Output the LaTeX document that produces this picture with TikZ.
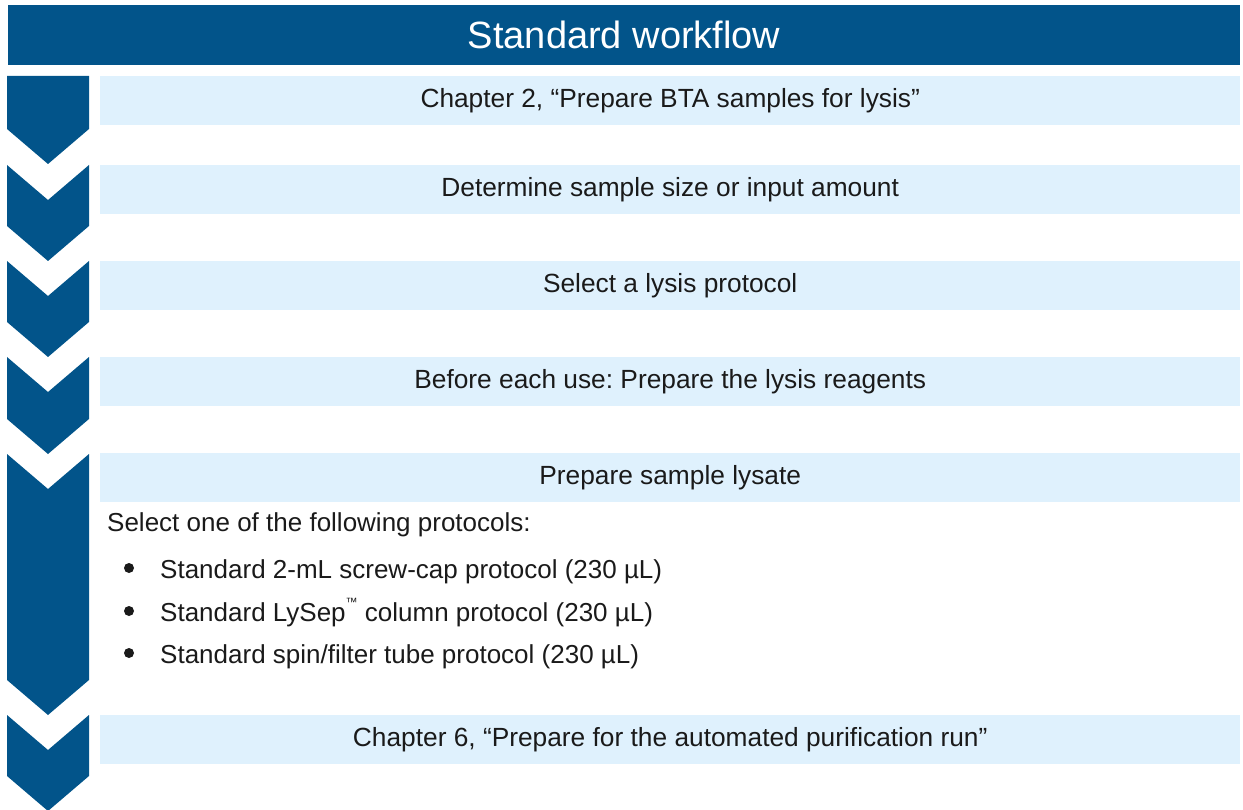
\documentclass[tikz,border=0pt]{standalone}
\usepackage{fontspec}
\setmainfont{Liberation Sans}
\frenchspacing
\definecolor{navy}{HTML}{02548A}
\definecolor{pale}{HTML}{DFF1FD}
\definecolor{ink}{HTML}{1A1A1A}
\begin{document}
\begin{tikzpicture}[x=1pt,y=-1pt,
  stepbox/.style={fill=pale, minimum width=1140pt, minimum height=49pt, anchor=north west,
    inner sep=0pt, font=\fontsize{26.3}{30}\selectfont, text=ink},
  chev/.style={fill=navy},
  listtext/.style={anchor=base west, inner sep=0pt, font=\fontsize{26}{30}\selectfont, text=ink},
  bullet/.style={circle, fill=ink, inner sep=0pt, minimum size=10pt}]
\useasboundingbox (0,0) rectangle (1243,810);
\clip (0,0) rectangle (1243,810);
% title bar
\node[fill=navy, anchor=north west, minimum width=1232pt, minimum height=60pt, inner sep=0pt,
  text=white, font=\fontsize{38}{44}\selectfont] (title) at (8,5) {Standard workflow};
% chevrons
\def\d{35}
\fill[navy] (7,76) -- (89,76) -- (89,129) -- (48,164) -- (7,129) -- cycle;
\foreach \t/\n in {165/261, 261/357, 357/454, 454/715, 715/811}{
  \fill[navy] (7,\t) -- (48,\t+\d) -- (89,\t) -- (89,\n-\d) -- (48,\n) -- (7,\n-\d) -- cycle;
}
% step boxes
\node[stepbox] (s1) at (100,76)  {Chapter 2, “Prepare BTA samples for lysis”};
\node[stepbox] (s2) at (100,165) {Determine sample size or input amount};
\node[stepbox] (s3) at (100,261) {Select a lysis protocol};
\node[stepbox] (s4) at (100,357) {Before each use: Prepare the lysis reagents};
\node[stepbox] (s5) at (100,453) {Prepare sample lysate};
\node[stepbox] (s6) at (100,715) {Chapter 6, “Prepare for the automated purification run”};
% list
\node[listtext] (sel) at (107,531) {Select one of the following protocols:};
\node[bullet] (b1) at (129,568) {};
\node[bullet] (b2) at (129,611) {};
\node[bullet] (b3) at (129,653) {};
\node[listtext] (l1) at (160,578) {Standard 2-mL screw-cap protocol (230 µL)};
\node[listtext] (l2) at (160,621) {Standard LySep\raisebox{0.55em}{\fontsize{12}{12}\selectfont ™} column protocol (230 µL)};
\node[listtext] (l3) at (160,663) {Standard spin/filter tube protocol (230 µL)};
\end{tikzpicture}
\end{document}
